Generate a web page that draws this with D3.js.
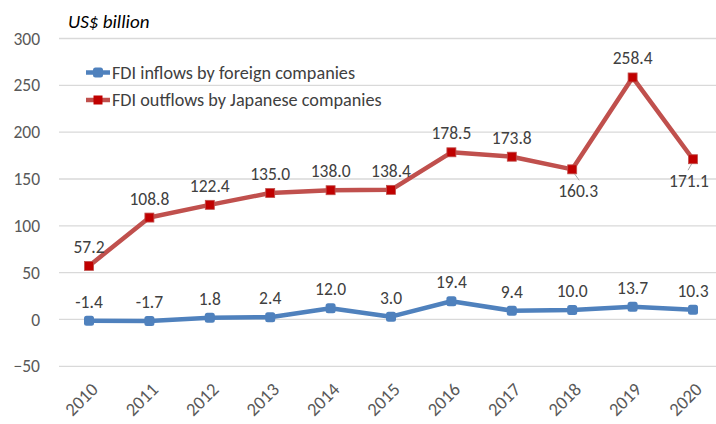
<!DOCTYPE html>
<html><head><meta charset="utf-8">
<script src="https://cdn.jsdelivr.net/npm/d3@7"></script>
<style>
html,body{margin:0;padding:0;background:#fff;}
svg{display:block;font-family:Carlito,Lato,"Open Sans",sans-serif;}
</style></head>
<body>
<svg id="chart" width="716" height="424"></svg>
<script>
const years = ["2010","2011","2012","2013","2014","2015","2016","2017","2018","2019","2020"];
const inflows = [-1.4,-1.7,1.8,2.4,12.0,3.0,19.4,9.4,10.0,13.7,10.3];
const outflows = [57.2,108.8,122.4,135.0,138.0,138.4,178.5,173.8,160.3,258.4,171.1];
const yTicks = [-50,0,50,100,150,200,250,300];
const seriesNames = ["FDI inflows by foreign companies","FDI outflows by Japanese companies"];
const belowLabels = ["2018","2020"]; // outflow labels placed below point

const svg = d3.select("#chart");
const x = d3.scalePoint().domain(years).range([89,693]);
const y = d3.scaleLinear().domain([-50,300]).range([366.3,38.5]);

// gridlines
svg.append("g").selectAll("line").data(yTicks).join("line")
  .attr("x1",59).attr("x2",716).attr("y1",d=>y(d)).attr("y2",d=>y(d))
  .attr("stroke","#d9d9d9").attr("stroke-width",1.3);

// y axis labels
const yAxis = d3.axisLeft(y).tickValues(yTicks).tickSize(0).tickPadding(0);
const ya = svg.append("g").attr("transform","translate(40,0)").call(yAxis);
ya.select(".domain").remove();
ya.selectAll("text").attr("font-size",17.5).attr("fill","#595959").attr("font-family","Carlito,Lato,sans-serif");

// x axis labels
const xa = svg.append("g").attr("transform","translate(0,384)").call(d3.axisBottom(x).tickSize(0).tickPadding(0));
xa.select(".domain").remove();
xa.selectAll("text").attr("font-size",18.5).attr("fill","#595959").attr("font-family","Carlito,Lato,sans-serif")
  .attr("text-anchor","end").attr("dy","0.35em")
  .attr("transform","translate(5,2) rotate(-45)");

// title
svg.append("text").attr("x",68).attr("y",28).attr("font-size",19).attr("font-style","italic")
  .attr("fill","#000").text("US$ billion");

const line = d3.line().x((d,i)=>x(years[i])).y(d=>y(d));
const blue = "#4f81bd", red = "#c0504d", redM = "#c00000";

// outflows
svg.append("path").datum(outflows).attr("d",line).attr("fill","none").attr("stroke",red).attr("stroke-width",4.5).attr("stroke-linejoin","round");
// leader lines
svg.append("g").selectAll("line").data(outflows.map((v,i)=>[years[i],v]).filter(d=>belowLabels.includes(d[0]))).join("line")
  .attr("x1",d=>x(d[0])+ (d[0]==="2018"?2:-1)).attr("y1",d=>y(d[1])+4)
  .attr("x2",d=>x(d[0])+ (d[0]==="2018"?7:-5)).attr("y2",d=>y(d[1])+11)
  .attr("stroke","#a6a6a6").attr("stroke-width",1);
svg.append("g").selectAll("rect").data(outflows).join("rect")
  .attr("x",(d,i)=>x(years[i])-4.5).attr("y",d=>y(d)-4.5).attr("width",9).attr("height",9)
  .attr("fill",redM).attr("stroke",red).attr("stroke-width",0.8);

// inflows
svg.append("path").datum(inflows).attr("d",line).attr("fill","none").attr("stroke",blue).attr("stroke-width",4.5).attr("stroke-linejoin","round");
svg.append("g").selectAll("rect").data(inflows).join("rect")
  .attr("x",(d,i)=>x(years[i])-5).attr("y",d=>y(d)-5).attr("width",10).attr("height",10).attr("rx",2.5)
  .attr("fill",blue);

// data labels
const lab = svg.append("g").attr("font-size",17.5).attr("fill","#404040").attr("text-anchor","middle");
lab.selectAll("text.in").data(inflows).join("text").attr("class","in")
  .attr("x",(d,i)=>x(years[i])).attr("y",d=>y(d)-13).text(d=>d.toFixed(1));
lab.selectAll("text.out").data(outflows).join("text").attr("class","out")
  .attr("x",(d,i)=>x(years[i]) + (years[i]==="2018"?6:years[i]==="2020"?-4:0))
  .attr("y",(d,i)=>belowLabels.includes(years[i]) ? y(d)+28 : y(d)-13).text(d=>d.toFixed(1));

// legend
const leg = svg.append("g");
[[blue,"round"],[red,"sq"]].forEach((c,i)=>{
  const ly = 72.5 + i*27.5;
  leg.append("line").attr("x1",86).attr("x2",110).attr("y1",ly).attr("y2",ly).attr("stroke",c[0]).attr("stroke-width",4.5);
  if(i===0) leg.append("rect").attr("x",93).attr("y",ly-5).attr("width",10).attr("height",10).attr("rx",2.5).attr("fill",blue);
  else leg.append("rect").attr("x",93.5).attr("y",ly-4.5).attr("width",9).attr("height",9).attr("fill",redM);
  leg.append("text").attr("x",112).attr("y",ly).attr("dy","0.35em").attr("font-size",18.2).attr("fill","#404040").text(seriesNames[i]);
});
</script>
</body></html>
